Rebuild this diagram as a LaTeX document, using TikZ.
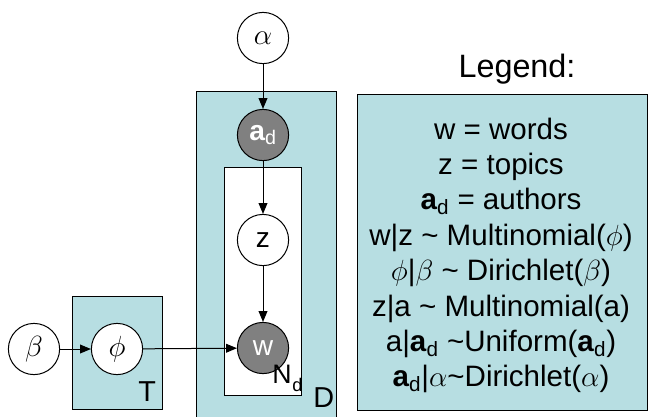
\documentclass[tikz,border=0pt]{standalone}
\usepackage{fontspec}
\setmainfont{Liberation Sans}
\usetikzlibrary{arrows.meta}

\definecolor{platecol}{RGB}{183,222,226}
\definecolor{obsgray}{RGB}{128,128,128}

\newcommand{\ad}{\textbf{a}\textsubscript{d}}

\tikzset{
  var/.style={circle,draw=black,fill=white,line width=0.25mm,minimum size=1.28cm,inner sep=0pt,font=\fontsize{20}{20}\selectfont},
  obs/.style={var,fill=obsgray,text=white},
  plate/.style={draw=black,fill=platecol,line width=0.25mm},
  edge/.style={-{Triangle[length=0.27cm,width=0.22cm]},line width=0.25mm},
  platelbl/.style={anchor=base west,inner sep=0pt,font=\fontsize{20.5}{20.5}\selectfont},
  legtxt/.style={anchor=base,inner sep=0pt,font=\fontsize{21}{21}\selectfont},
}

\begin{document}
\begin{tikzpicture}[x=0.025cm,y=-0.025cm]
\useasboundingbox (0,0) rectangle (650,416);

% plate D (runs off the bottom)
\fill[platecol] (196,91) rectangle (336,417);
\draw[line width=0.25mm] (196,417) -- (196,91) -- (336,91) -- (336,417);
% plate N_d
\draw[draw=black,fill=white,line width=0.25mm] (224,167) rectangle (301,395);
% plate T
\draw[plate] (72,296) rectangle (162,409);
% legend box
\draw[plate] (357,94) rectangle (647,410);

% variables
\node[var] (alpha) at (263,38) {$\alpha$};
\node[obs] (ad) at (263,135) {\ad};
\node[var] (z) at (263,240) {z};
\node[obs] (w) at (263,348) {w};
\node[var] (phi) at (117,349) {$\phi$};
\node[var] (beta) at (34,349) {$\beta$};

\draw[edge] (alpha) -- (ad);
\draw[edge] (ad) -- (z);
\draw[edge] (z) -- (w);
\draw[edge] (beta) -- (phi);
\draw[edge] (phi) -- (w);

% plate labels
\node[anchor=base west,inner sep=0pt,font=\fontsize{19}{19}\selectfont] (lblN) at (272,383)
  {N\kern0.5pt{\fontsize{13}{13}\selectfont\raisebox{-6pt}{d}}};
\node[platelbl] (lblD) at (313,407) {D};
\node[platelbl] (lblT) at (138,401) {T};

% legend
\node[anchor=base,inner sep=0pt,font=\fontsize{23}{23}\selectfont] (legtitle) at (517,77) {Legend:};
\foreach \txt [count=\i from 0] in {w = words, z = topics, {\ad{} = authors},
    {w|z \textasciitilde{} Multinomial($\phi$)}, {$\phi$|$\beta$ \textasciitilde{} Dirichlet($\beta$)},
    {z|a \textasciitilde{} Multinomial(a)}, {a|\ad{} \textasciitilde Uniform(\ad)},
    {\ad|$\alpha$\textasciitilde Dirichlet($\alpha$)}}
  \node[legtxt] (leg\i) at (501,{139+35.4*\i}) {\txt};
\end{tikzpicture}
\end{document}
